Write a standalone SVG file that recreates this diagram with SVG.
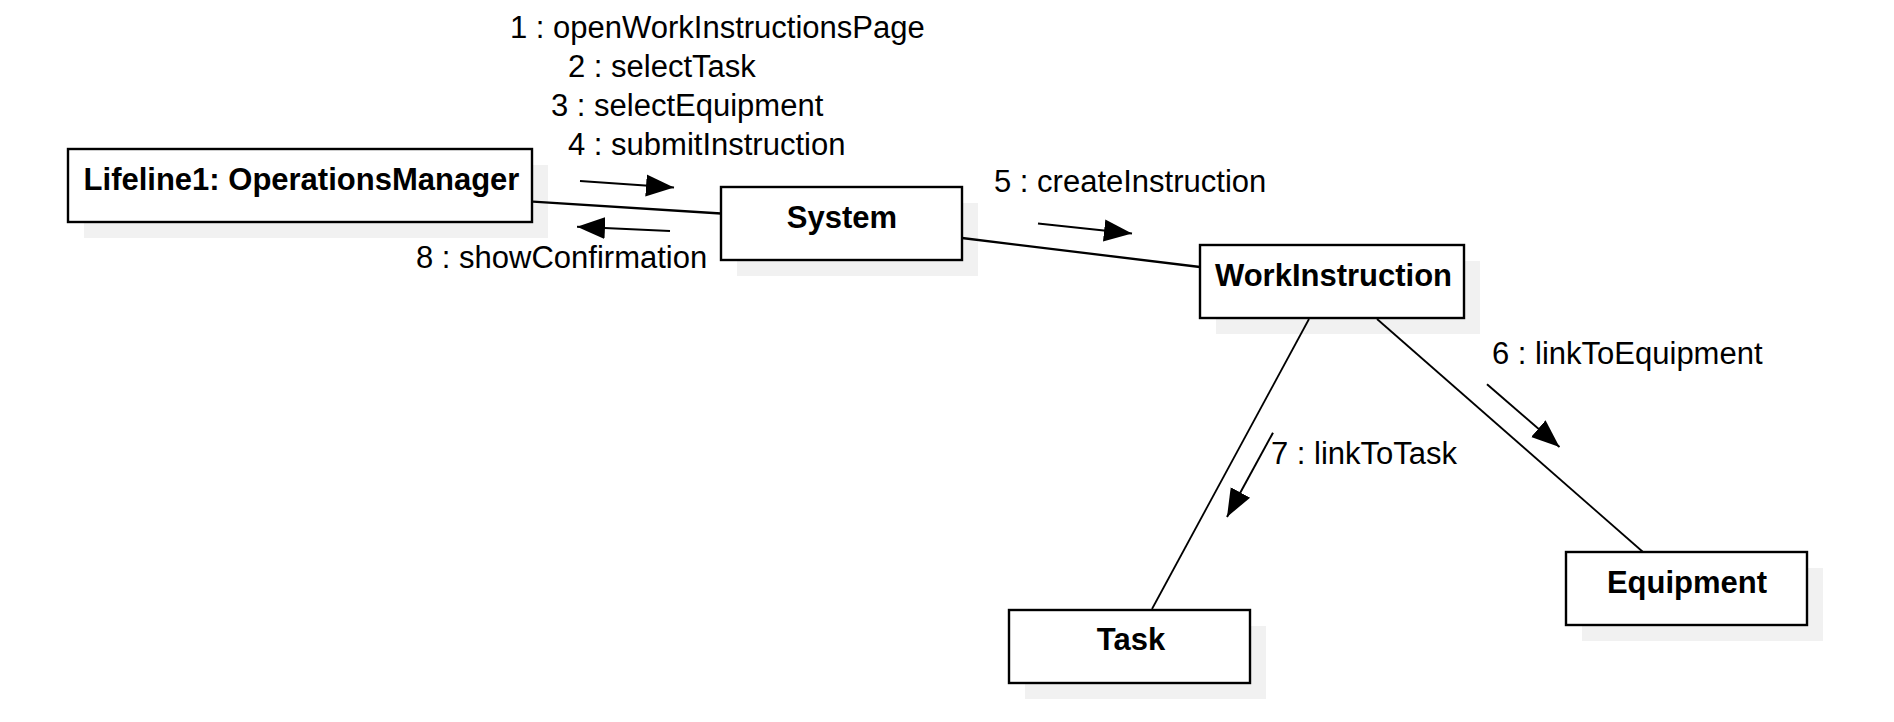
<svg xmlns="http://www.w3.org/2000/svg" width="1894" height="722" viewBox="0 0 1894 722">
<style>
.shadow{fill:#f1f1f1;stroke:none}
.box{fill:#ffffff;stroke:#000000;stroke-width:2.4}
.name{font-family:"Liberation Sans",Arial,sans-serif;font-size:31px;font-weight:bold;fill:#000000;text-anchor:middle}
.lbl{font-family:"Liberation Sans",Arial,sans-serif;font-size:31px;fill:#000000}
.link{fill:none;stroke:#000000;stroke-width:2.3}
.thin{fill:none;stroke:#000000;stroke-width:1.8}
.msg{fill:none;stroke:#000000;stroke-width:2;marker-end:url(#head)}
</style>
<defs>
<marker id="head" markerUnits="userSpaceOnUse" markerWidth="30" markerHeight="24" refX="28" refY="11" orient="auto" viewBox="0 0 30 22">
<path d="M0,0 L28,11 L0,22 Z" fill="#000000"/>
</marker>
</defs>
<rect width="1894" height="722" fill="#ffffff"/>
<g id="node-operations-manager">
<rect class="shadow" x="84" y="165" width="464" height="73"/>
<rect class="box" x="68" y="149" width="464" height="73"/>
<text class="name" x="301.5" y="190">Lifeline1: OperationsManager</text>
</g>
<g id="node-system">
<rect class="shadow" x="737" y="203" width="241" height="73"/>
<rect class="box" x="721" y="187" width="241" height="73"/>
<text class="name" x="842" y="228">System</text>
</g>
<g id="node-work-instruction">
<rect class="shadow" x="1216" y="261" width="264" height="73"/>
<rect class="box" x="1200" y="245" width="264" height="73"/>
<text class="name" x="1333.5" y="286">WorkInstruction</text>
</g>
<g id="node-task">
<rect class="shadow" x="1025" y="626" width="241" height="73"/>
<rect class="box" x="1009" y="610" width="241" height="73"/>
<text class="name" x="1131" y="650">Task</text>
</g>
<g id="node-equipment">
<rect class="shadow" x="1582" y="568" width="241" height="73"/>
<rect class="box" x="1566" y="552" width="241" height="73"/>
<text class="name" x="1687" y="593">Equipment</text>
</g>
<g id="connectors">
<line class="link" x1="533" y1="201.7" x2="721" y2="213.5"/>
<line class="link" x1="962" y1="238" x2="1200" y2="267"/>
<line class="thin" x1="1309" y1="319" x2="1152" y2="609"/>
<line class="thin" x1="1377" y1="319" x2="1643" y2="552"/>
<line class="msg" x1="580" y1="181" x2="674" y2="187.5"/>
<line class="msg" x1="670" y1="231" x2="577" y2="226.8"/>
<line class="msg" x1="1038" y1="223.5" x2="1132" y2="233.5"/>
<line class="msg" x1="1487" y1="384.3" x2="1559.5" y2="447"/>
<line class="msg" x1="1273" y1="432.7" x2="1227" y2="517"/>
</g>
<g id="labels">
<text class="lbl" x="510" y="38">1 : openWorkInstructionsPage</text>
<text class="lbl" x="568" y="77">2 : selectTask</text>
<text class="lbl" x="551" y="116">3 : selectEquipment</text>
<text class="lbl" x="568" y="155">4 : submitInstruction</text>
<text class="lbl" x="416" y="268">8 : showConfirmation</text>
<text class="lbl" x="994" y="192">5 : createInstruction</text>
<text class="lbl" x="1492" y="364">6 : linkToEquipment</text>
<text class="lbl" x="1271" y="464">7 : linkToTask</text>
</g>
</svg>
